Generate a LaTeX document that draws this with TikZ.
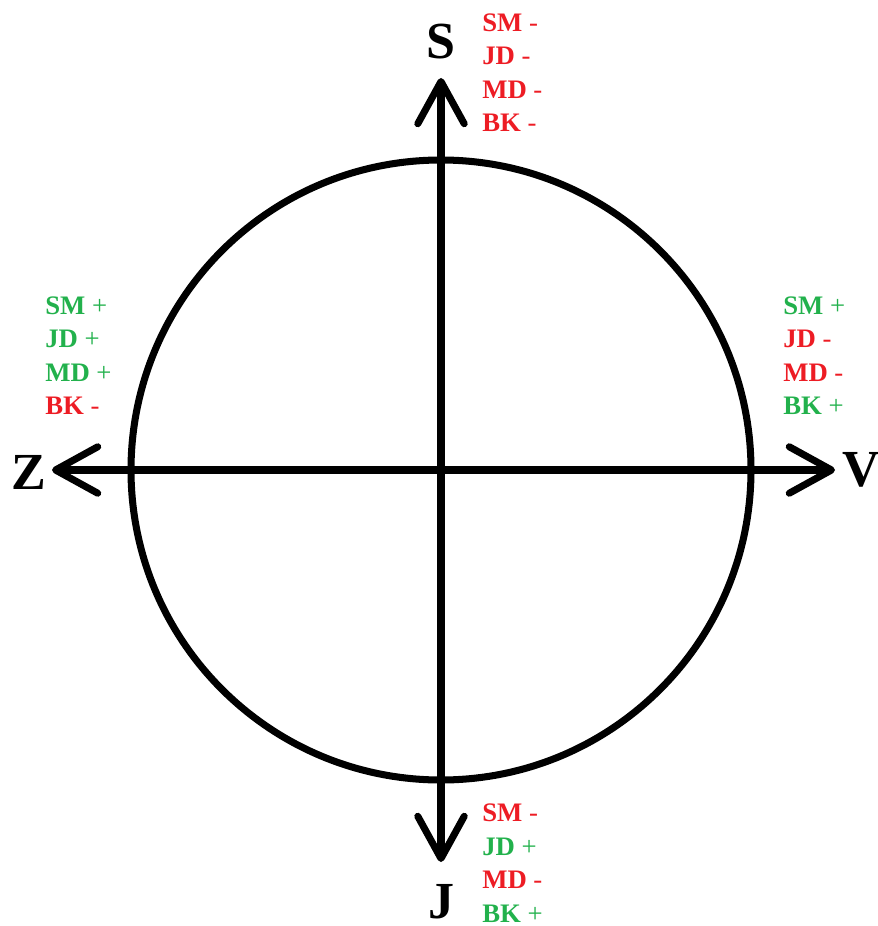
\documentclass[tikz,border=0pt]{standalone}
\usepackage{fontspec}
\setmainfont{Liberation Serif}
\usetikzlibrary{arrows.meta}
\definecolor{signred}{RGB}{237,28,36}
\definecolor{signgreen}{RGB}{34,177,76}
\newcommand{\pl}[1]{\textcolor{signgreen}{\textbf{#1} +}}
\newcommand{\mi}[1]{\textcolor{signred}{\textbf{#1} -}}

\begin{document}
\begin{tikzpicture}[
x=0.025cm, y=-0.025cm,
axis/.style={line width=5pt, {Straight Barb[length=30pt,width=33pt,round]}-{Straight Barb[length=30pt,width=33pt,round]}},
ring/.style={line width=5pt},
big/.style={font=\fontsize{37}{40}\selectfont\bfseries, inner sep=0pt},
list/.style={font=\fontsize{19}{23.8}\selectfont, align=left, anchor=west, inner sep=0pt}
]
\useasboundingbox (0,0) rectangle (877,926);

% axes and circle
\coordinate (o) at (441,470);
\coordinate (n) at (441,78);
\coordinate (s) at (441,862);
\coordinate (w) at (52,470);
\coordinate (e) at (835,470);
\draw[ring] (o) circle [radius=310];
\draw[axis] (s) -- (n);
\draw[axis] (w) -- (e);

% pole letters
\node[big] (lS) at (441,42) {S};
\node[big] (lJ) at (442,902) {J};
\node[big] (lZ) at (29,472) {Z};
\node[big] (lV) at (861,470) {V};

% sign lists
\node[list] (signS) at (482,72.5) {\mi{SM}\\\mi{JD}\\\mi{MD}\\\mi{BK}};
\node[list] (signZ) at (45,355.5) {\pl{SM}\\\pl{JD}\\\pl{MD}\\\mi{BK}};
\node[list] (signV) at (783,355.5) {\pl{SM}\\\mi{JD}\\\mi{MD}\\\pl{BK}};
\node[list] (signJ) at (482,863) {\mi{SM}\\\pl{JD}\\\mi{MD}\\\pl{BK}};
\end{tikzpicture}
\end{document}
